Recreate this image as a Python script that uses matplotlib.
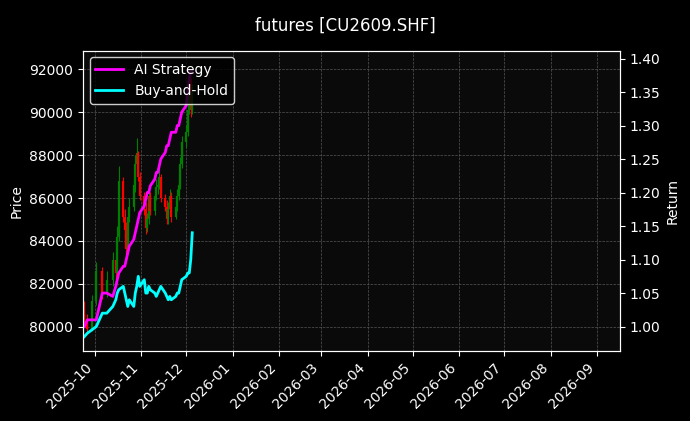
import matplotlib
matplotlib.use("Agg")
import matplotlib.pyplot as plt
import matplotlib.dates as mdates
import pandas as pd
import numpy as np

dates = pd.to_datetime(
    ["2025-09-24","2025-09-26","2025-09-29","2025-10-02","2025-10-06"]
    + [f"2025-10-{d:02d}" for d in (9,13,15,16,17,20,21,22,23,24,27,28,29,30,31)]
    + [f"2025-11-{d:02d}" for d in (3,4,5,6,7,10,11,12,13,14,17,18,19,20,21,24,25,26,27,28)]
    + [f"2025-12-{d:02d}" for d in (1,2,3,4,5)])
opens  = [80800,80300,79900,81200,82600,81600,82200,83100,82500,84200,86800,85100,84500,83600,85100,85600,86600,87600,88100,87000,
          86100,85500,84600,85000,86100,85400,86100,86500,86600,87000,86000,85600,85000,85500,86100,85100,85600,86100,86600,87600,
          88600,89100,90100,91500,90100]
closes = [80300,79900,81200,82600,81600,82200,83100,82500,84200,86800,85100,84500,83600,85100,85600,86600,87600,88100,87000,86100,
          85500,84600,85000,86100,85400,86100,86500,86600,87000,86000,85600,85000,85500,86100,85100,85600,86100,86600,87600,88600,
          89100,90100,91500,90100,91000]
highs  = [81200,80600,81500,83000,82800,82600,83500,83300,84700,87500,87000,85500,84900,85500,86000,87000,88000,88800,88200,87200,
          86300,85800,85300,86500,86300,86500,86900,87000,87400,87100,86200,85900,85800,86400,86300,85900,86400,86900,87900,88900,
          89400,90400,91800,91600,91300]
lows   = [80000,79700,79800,81000,81300,81400,81900,82200,82300,84000,84900,84200,83300,83400,84900,85400,86300,87300,86800,85900,
          85200,84300,84400,84800,85200,85200,85900,86200,86400,85800,85400,84800,84800,85300,84900,85000,85400,85900,86400,87400,
          88400,88900,89900,89800,89900]
ai_ret = [1.00,1.01,1.01,1.01,1.05,1.05,1.045,1.06,1.07,1.08,1.09,1.09,1.10,1.11,1.12,1.13,1.14,1.15,1.16,1.17,1.18,1.19,1.20,1.20,1.21,
          1.22,1.23,1.23,1.24,1.25,1.26,1.27,1.27,1.28,1.29,1.29,1.30,1.30,1.31,1.32,1.33,1.35,1.37,1.38,1.38]
bh_ret = [0.985,0.99,0.995,1.00,1.02,1.02,1.03,1.04,1.05,1.055,1.06,1.05,1.04,1.03,1.04,1.03,1.05,1.06,1.075,1.06,1.07,1.05,1.05,1.06,
          1.055,1.05,1.045,1.05,1.055,1.06,1.05,1.045,1.04,1.045,1.04,1.045,1.05,1.05,1.06,1.07,1.075,1.08,1.08,1.10,1.14]

bg = "#0a0a0a"
fig = plt.figure(figsize=(6.9, 4.21), dpi=100, facecolor="black")
ax = fig.add_axes([0.12, 0.167, 0.778, 0.713])
ax.set_facecolor(bg)
for d, o, c, h, l in zip(dates, opens, closes, highs, lows):
    col = "green" if c >= o else "red"
    ax.vlines(d, l, h, color=col, linewidth=0.8)
    ax.vlines(d, min(o, c), max(o, c), color=col, linewidth=1.6)
ax.set_ylim(78880, 92880)
ax.set_xlim(pd.Timestamp("2025-09-23"), pd.Timestamp("2026-09-16"))
ax.xaxis.set_major_locator(mdates.MonthLocator())
ax.xaxis.set_major_formatter(mdates.DateFormatter("%Y-%m"))
plt.setp(ax.get_xticklabels(), rotation=45, ha="right")
ax.set_ylabel("Price", color="white")
ax.grid(True, color="#555555", linestyle="--", linewidth=0.5)

ax2 = ax.twinx()
l1, = ax2.plot(dates, ai_ret, color="magenta", linewidth=2, label="AI Strategy")
l2, = ax2.plot(dates, bh_ret, color="cyan", linewidth=2, label="Buy-and-Hold")
ax2.set_ylim(0.964, 1.412)
ax2.set_ylabel("Return", color="white")
for a in (ax, ax2):
    a.tick_params(colors="white")
    for s in a.spines.values():
        s.set_color("white")
leg = ax2.legend(handles=[l1, l2], loc="upper left", facecolor="black", edgecolor="white", labelcolor="white")
fig.suptitle("futures [CU2609.SHF]", color="white", y=0.96)
fig.savefig("out.png", facecolor="black")
